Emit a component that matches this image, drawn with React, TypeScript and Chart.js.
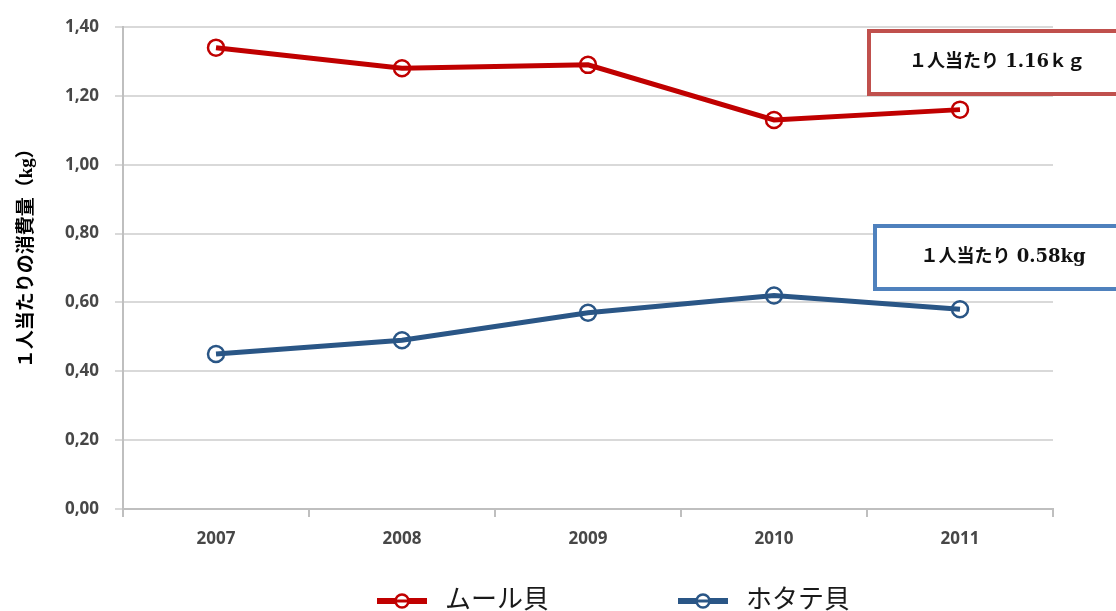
import React, { useEffect, useRef } from "react";
import { Chart, registerables } from "chart.js";

Chart.register(...registerables);

const years = ["2007", "2008", "2009", "2010", "2011"];
const musselLabel = "ムール貝";
const scallopLabel = "ホタテ貝";
const musselValues = [1.34, 1.28, 1.29, 1.13, 1.16];
const scallopValues = [0.45, 0.49, 0.57, 0.62, 0.58];
const yMin = 0;
const yMax = 1.4;
const yStep = 0.2;
const yTitle = "　  １人当たりの消費量（kg）";
const musselNote = "１人当たり 1.16ｋｇ";
const scallopNote = "１人当たり 0.58kg";

const RED = "#C00000";
const BLUE = "#2A5686";
const CANVAS_W = 1116;
const CANVAS_H = 640;

export default function App() {
  const ref = useRef<HTMLCanvasElement | null>(null);

  useEffect(() => {
    if (!ref.current) return;

    const overlay = {
      id: "overlay",
      afterDraw(chart: any) {
        const ctx = chart.ctx as CanvasRenderingContext2D;
        const ca = chart.chartArea;
        ctx.save();
        const drawBox = (x: number, y: number, w: number, h: number, color: string, text: string, tx: number) => {
          ctx.fillStyle = "#ffffff";
          ctx.fillRect(x, y, w, h);
          ctx.strokeStyle = color;
          ctx.lineWidth = 4;
          ctx.strokeRect(x, y, w, h);
          ctx.fillStyle = "#111111";
          ctx.font = "bold 18px 'DejaVu Serif', 'Noto Sans CJK JP', serif";
          ctx.textAlign = "center";
          ctx.textBaseline = "middle";
          ctx.fillText(text, tx, y + h / 2);
        };
        drawBox(ca.right - 184, ca.top + 4, 300, 63, "#C0504D", musselNote, ca.right - 56);
        drawBox(ca.right - 178, ca.top + 199, 300, 63, "#4F81BD", scallopNote, ca.right - 50);

        const ly = ca.bottom + 92;
        const items = chart.data.datasets.map((d: any, i: number) => ({
          label: d.label,
          color: d.borderColor,
          x: i === 0 ? ca.left + 254 : ca.left + 555,
        }));
        items.forEach((it: any) => {
          ctx.strokeStyle = it.color;
          ctx.lineWidth = 6;
          ctx.beginPath();
          ctx.moveTo(it.x, ly);
          ctx.lineTo(it.x + 50, ly);
          ctx.stroke();
          ctx.lineWidth = 2.5;
          ctx.beginPath();
          ctx.arc(it.x + 25, ly, 6.5, 0, Math.PI * 2);
          ctx.fillStyle = "#ffffff";
          ctx.fill();
          ctx.stroke();
          ctx.beginPath();
          ctx.moveTo(it.x + 19, ly);
          ctx.lineTo(it.x + 31, ly);
          ctx.lineWidth = 3;
          ctx.stroke();
          ctx.fillStyle = "#1a1a1a";
          ctx.font = "26px 'Liberation Serif', 'Noto Sans CJK JP', serif";
          ctx.textAlign = "left";
          ctx.textBaseline = "middle";
          ctx.fillText(it.label, it.x + 68, ly);
        });
        ctx.restore();
      },
    };

    const chart = new Chart(ref.current, {
      type: "line",
      data: {
        labels: years,
        datasets: [
          {
            label: musselLabel,
            data: musselValues,
            borderColor: RED,
            backgroundColor: RED,
            borderWidth: 5,
            pointRadius: 8,
            pointBorderWidth: 2.5,
            pointBackgroundColor: "rgba(0,0,0,0)",
            pointBorderColor: RED,
            tension: 0,
          },
          {
            label: scallopLabel,
            data: scallopValues,
            borderColor: BLUE,
            backgroundColor: BLUE,
            borderWidth: 5,
            pointRadius: 8,
            pointBorderWidth: 2.5,
            pointBackgroundColor: "rgba(0,0,0,0)",
            pointBorderColor: BLUE,
            tension: 0,
          },
        ],
      },
      options: {
        responsive: false,
        animation: false,
        devicePixelRatio: 1,
        layout: {
          padding: { left: 0, top: 27, right: 63, bottom: CANVAS_H - 509 - 50 },
        },
        plugins: {
          legend: { display: false },
          tooltip: { enabled: false },
        },
        scales: {
          x: {
            offset: true,
            afterFit: (s: any) => {
              s.height = 50;
            },
            grid: {
              display: true,
              offset: true,
              drawOnChartArea: false,
              drawTicks: true,
              tickLength: 8,
              color: "#BFBFBF",
              lineWidth: 2,
            },
            border: { display: true, color: "#BFBFBF", width: 2 },
            ticks: {
              color: "#474747",
              padding: 12,
              font: { family: "'Open Sans', 'Liberation Sans', sans-serif", size: 17, weight: "bold" },
            },
          },
          y: {
            min: yMin,
            max: yMax,
            afterFit: (s: any) => {
              s.width = 123;
            },
            grid: {
              color: "#D9D9D9",
              lineWidth: 2,
              tickLength: 8,
            },
            border: { display: true, color: "#BFBFBF", width: 2 },
            ticks: {
              stepSize: yStep,
              padding: 16,
              color: "#474747",
              font: { family: "'Open Sans', 'Liberation Sans', sans-serif", size: 17, weight: "bold" },
              callback: (v: any) => Number(v).toFixed(2).replace(".", ","),
            },
            title: {
              display: true,
              text: yTitle,
              color: "#000000",
              padding: { top: 16, bottom: 0 },
              font: { family: "'Liberation Serif', 'Noto Sans CJK JP', serif", size: 19, weight: "bold" },
            },
          },
        },
      },
      plugins: [overlay],
    } as any);

    return () => chart.destroy();
  }, []);

  return (
    <div
      style={{
        position: "absolute",
        left: 0,
        top: 0,
        width: CANVAS_W,
        height: 611,
        overflow: "hidden",
        background: "#ffffff",
      }}
    >
      <canvas ref={ref} width={CANVAS_W} height={CANVAS_H} style={{ width: CANVAS_W, height: CANVAS_H, display: "block" }} />
    </div>
  );
}
